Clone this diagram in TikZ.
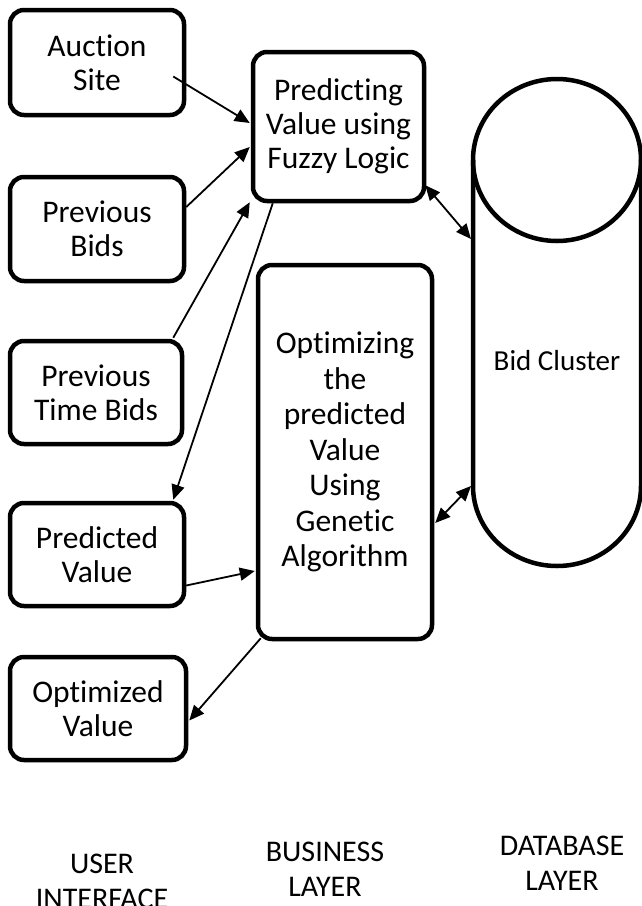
\documentclass[tikz,border=0pt]{standalone}
\usepackage{fontspec}
\setmainfont[Ligatures=NoCommon]{Carlito}
\usetikzlibrary{arrows.meta,calc}
\begin{document}
\begin{tikzpicture}[x=1pt,y=1pt,
  every node/.style={font=\fontsize{31.5}{34}\selectfont},
  box/.style={draw, line width=4.5pt, rounded corners=14pt, align=center, inner sep=0pt},
  conn/.style={line width=1.8pt, -{Triangle[length=15pt,width=13pt]}},
  bconn/.style={line width=1.8pt, {Triangle[length=15pt,width=13pt]}-{Triangle[length=15pt,width=13pt]}},
  lbl/.style={align=center, inner sep=0pt},
  layer/.style={align=center, inner sep=0pt, font=\fontsize{30}{35}\selectfont}]
\useasboundingbox (0,0) rectangle (642,-906);
% user interface column
\node[box, minimum width=174, minimum height=105] (auction) at (97,-62.5) {Auction\\Site};
\node[box, minimum width=174, minimum height=104] (prevbids) at (97,-229) {Previous\\Bids};
\node[box, minimum width=172, minimum height=103] (prevtime) at (96,-392.5) {Previous\\Time Bids};
\node[box, minimum width=174, minimum height=103] (predval) at (97,-554.5) {Predicted\\Value};
\node[box, minimum width=176, minimum height=103] (optval) at (98,-708.5) {Optimized\\Value};
% business layer
\node[box, minimum width=171, minimum height=149] (predicting) at (338.5,-126.5) {Predicting\\Value using\\Fuzzy Logic};
\node[box, minimum width=174, minimum height=374, font=\fontsize{31.5}{35.5}\selectfont] (optimizing) at (345,-452) {Optimizing\\the\\predicted\\Value\\Using\\Genetic\\Algorithm};
% database cylinder
\draw[line width=4.5pt] (473,-160) -- (473,-486) arc[start angle=180,end angle=360,x radius=84,y radius=80] -- (641,-160);
\draw[line width=4.5pt] (557,-160) ellipse [x radius=84, y radius=81];
\node[lbl, font=\fontsize{29}{34}\selectfont] (db) at (557,-361) {Bid Cluster};
\coordinate (dbA) at (471,-239);
\coordinate (dbB) at (471,-486);
% connectors
\draw[conn] ($(auction.east)+(-13,-14)$) -- ($(predicting.west)+(-1,3.5)$);
\draw[conn] ($(prevbids.east)+(0,22)$) -- ($(predicting.west)+(-1,-20.5)$);
\draw[conn] ($(prevtime.north east)+(-11,1)$) -- ($(predicting.south west)+(-1,1)$);
\draw[conn] ($(predicting.south west)+(22,0)$) -- ($(predval.north east)+(-13,1)$);
\draw[conn] ($(predval.east)+(0,-31)$) -- ($(optimizing.west)+(-1,-119)$);
\draw[conn] ($(optimizing.south west)+(5,3)$) -- ($(optval.east)+(1,-12)$);
\draw[bconn] ($(predicting.south east)+(-1,18)$) -- (dbA);
\draw[bconn] ($(optimizing.east)+(1,-71)$) -- (dbB);
% layer labels
\node[layer] (ui) at (102,-881) {USER\\INTERFACE};
\node[layer] (bl) at (325,-869.5) {BUSINESS\\LAYER};
\node[layer] (dl) at (562,-863) {DATABASE\\LAYER};
\end{tikzpicture}
\end{document}
